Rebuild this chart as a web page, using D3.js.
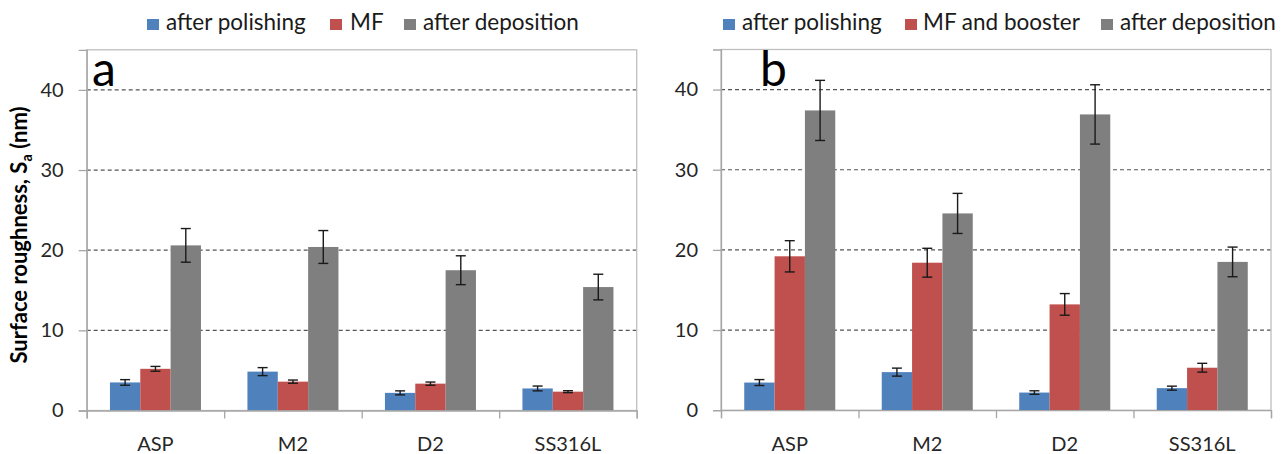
<!DOCTYPE html>
<html>
<head>
<meta charset="utf-8">
<script src="https://cdn.jsdelivr.net/npm/d3@7"></script>
<style>
  html, body { margin: 0; padding: 0; background: #ffffff; }
  svg { display: block; font-family: Lato, "Open Sans", sans-serif; }
</style>
</head>
<body>
<svg id="chart" width="1285" height="454"></svg>
<script>
// Materials on the x axis
const categories = ["ASP", "M2", "D2", "SS316L"];
const yTicks = [0, 10, 20, 30, 40];

// Panel a: surface roughness Sa (nm), mean and standard deviation
const seriesNamesA = ["after polishing", "MF", "after deposition"];
const polishA = [3.5, 4.85, 2.2, 2.75];
const polishAErr = [0.35, 0.5, 0.25, 0.3];
const mfA = [5.2, 3.6, 3.35, 2.35];
const mfAErr = [0.3, 0.2, 0.2, 0.12];
const depA = [20.6, 20.4, 17.5, 15.4];
const depAErr = [2.1, 2.05, 1.8, 1.6];

// Panel b: surface roughness Sa (nm), mean and standard deviation
const seriesNamesB = ["after polishing", "MF and booster", "after deposition"];
const polishB = [3.45, 4.75, 2.2, 2.75];
const polishBErr = [0.37, 0.5, 0.22, 0.25];
const mfbB = [19.2, 18.4, 13.2, 5.3];
const mfbBErr = [1.95, 1.8, 1.35, 0.55];
const depB = [37.4, 24.55, 36.9, 18.5];
const depBErr = [3.75, 2.5, 3.7, 1.85];

const colors = ["#4F81BD", "#C0504D", "#7F7F7F"];

const svg = d3.select("#chart");

function drawPanel(opts) {
  const { left, right, top, bottom, names, values, errors, letter, letterX, legendSquares, legendTexts } = opts;
  const g = svg.append("g");

  const y = d3.scaleLinear().domain([0, 45]).range([bottom, top]);
  const x = d3.scaleBand().domain(categories).range([left, right])
    .paddingInner(0.338).paddingOuter(0.169);
  const xs = d3.scaleBand().domain(d3.range(names.length)).range([0, x.bandwidth()]);
  const xb = d3.scaleLinear().domain([0, categories.length]).range([left, right]);

  // dashed horizontal gridlines
  g.append("g").selectAll("line").data(yTicks.filter(t => t > 0)).join("line")
    .attr("x1", left).attr("x2", right)
    .attr("y1", d => y(d)).attr("y2", d => y(d))
    .attr("stroke", "#555").attr("stroke-width", 1.2)
    .attr("stroke-dasharray", "4,3");

  // plot frame
  g.append("rect")
    .attr("x", left).attr("y", top)
    .attr("width", right - left).attr("height", bottom - top)
    .attr("fill", "none").attr("stroke", "#bfbfbf").attr("stroke-width", 1.3);

  // y axis
  const yAxis = g.append("g").attr("transform", `translate(${left},0)`)
    .call(d3.axisLeft(y).tickValues(yTicks).tickSize(8).tickPadding(15).tickFormat(d3.format("d")));
  yAxis.select(".domain").attr("stroke", "#a6a6a6").attr("stroke-width", 1.3);
  yAxis.selectAll(".tick line").attr("stroke", "#a6a6a6").attr("stroke-width", 1.3);
  yAxis.selectAll(".tick text").attr("fill", "#262626")
    .style("font-family", "Lato, sans-serif").style("font-size", "20px");

  // bars
  names.forEach((name, si) => {
    g.append("g").selectAll("rect").data(categories).join("rect")
      .attr("x", (c) => x(c) + xs(si))
      .attr("width", xs.bandwidth())
      .attr("y", (c, i) => y(values[si][i]))
      .attr("height", (c, i) => y(0) - y(values[si][i]))
      .attr("fill", colors[si]);
  });

  // error bars
  names.forEach((name, si) => {
    const eg = g.append("g").attr("stroke", "#1a1a1a").attr("stroke-width", 1.4);
    categories.forEach((c, i) => {
      const cx = x(c) + xs(si) + xs.bandwidth() / 2;
      const hi = y(values[si][i] + errors[si][i]);
      const lo = y(values[si][i] - errors[si][i]);
      eg.append("line").attr("x1", cx).attr("x2", cx).attr("y1", hi).attr("y2", lo);
      eg.append("line").attr("x1", cx - 5).attr("x2", cx + 5).attr("y1", hi).attr("y2", hi);
      eg.append("line").attr("x1", cx - 5).attr("x2", cx + 5).attr("y1", lo).attr("y2", lo);
    });
  });

  // x axis with boundary ticks
  const xAxis = g.append("g").attr("transform", `translate(0,${bottom})`)
    .call(d3.axisBottom(xb).tickValues(d3.range(categories.length + 1)).tickSize(8).tickFormat(""));
  xAxis.select(".domain").attr("stroke", "#a6a6a6").attr("stroke-width", 1.3);
  xAxis.selectAll(".tick line").attr("stroke", "#a6a6a6").attr("stroke-width", 1.3);

  // category labels
  g.append("g").selectAll("text").data(categories).join("text")
    .attr("x", c => x(c) + x.bandwidth() / 2)
    .attr("y", 451)
    .attr("text-anchor", "middle")
    .attr("fill", "#262626")
    .style("font-size", "20px")
    .text(c => c);

  // panel letter
  g.append("text").attr("x", letterX).attr("y", 86)
    .attr("fill", "#000").style("font-size", "48px").text(letter);

  // legend
  const lg = g.append("g");
  names.forEach((name, si) => {
    lg.append("rect").attr("x", legendSquares[si]).attr("y", 19)
      .attr("width", 12).attr("height", 11).attr("fill", colors[si]);
    lg.append("text").attr("x", legendTexts[si]).attr("y", 30)
      .attr("fill", "#1a1a1a").style("font-size", "22.5px").text(name);
  });
}

drawPanel({
  left: 86.7, right: 636.7, top: 49.8, bottom: 410.5,
  names: seriesNamesA,
  values: [polishA, mfA, depA],
  errors: [polishAErr, mfAErr, depAErr],
  letter: "a", letterX: 92,
  legendSquares: [147, 330, 404],
  legendTexts: [166, 350, 423]
});

drawPanel({
  left: 721, right: 1271, top: 49.5, bottom: 410.2,
  names: seriesNamesB,
  values: [polishB, mfbB, depB],
  errors: [polishBErr, mfbBErr, depBErr],
  letter: "b", letterX: 760,
  legendSquares: [723, 905, 1101],
  legendTexts: [742, 923, 1120]
});

// shared y axis title
svg.append("text")
  .attr("transform", "translate(27,235) rotate(-90)")
  .attr("text-anchor", "middle")
  .attr("fill", "#000")
  .style("font-size", "22px").style("font-weight", "bold")
  .call(t => {
    t.append("tspan").text("Surface roughness, S");
    t.append("tspan").attr("dy", 5).style("font-size", "14.5px").text("a");
    t.append("tspan").attr("dy", -5).text(" (nm)");
  });
</script>
</body>
</html>
